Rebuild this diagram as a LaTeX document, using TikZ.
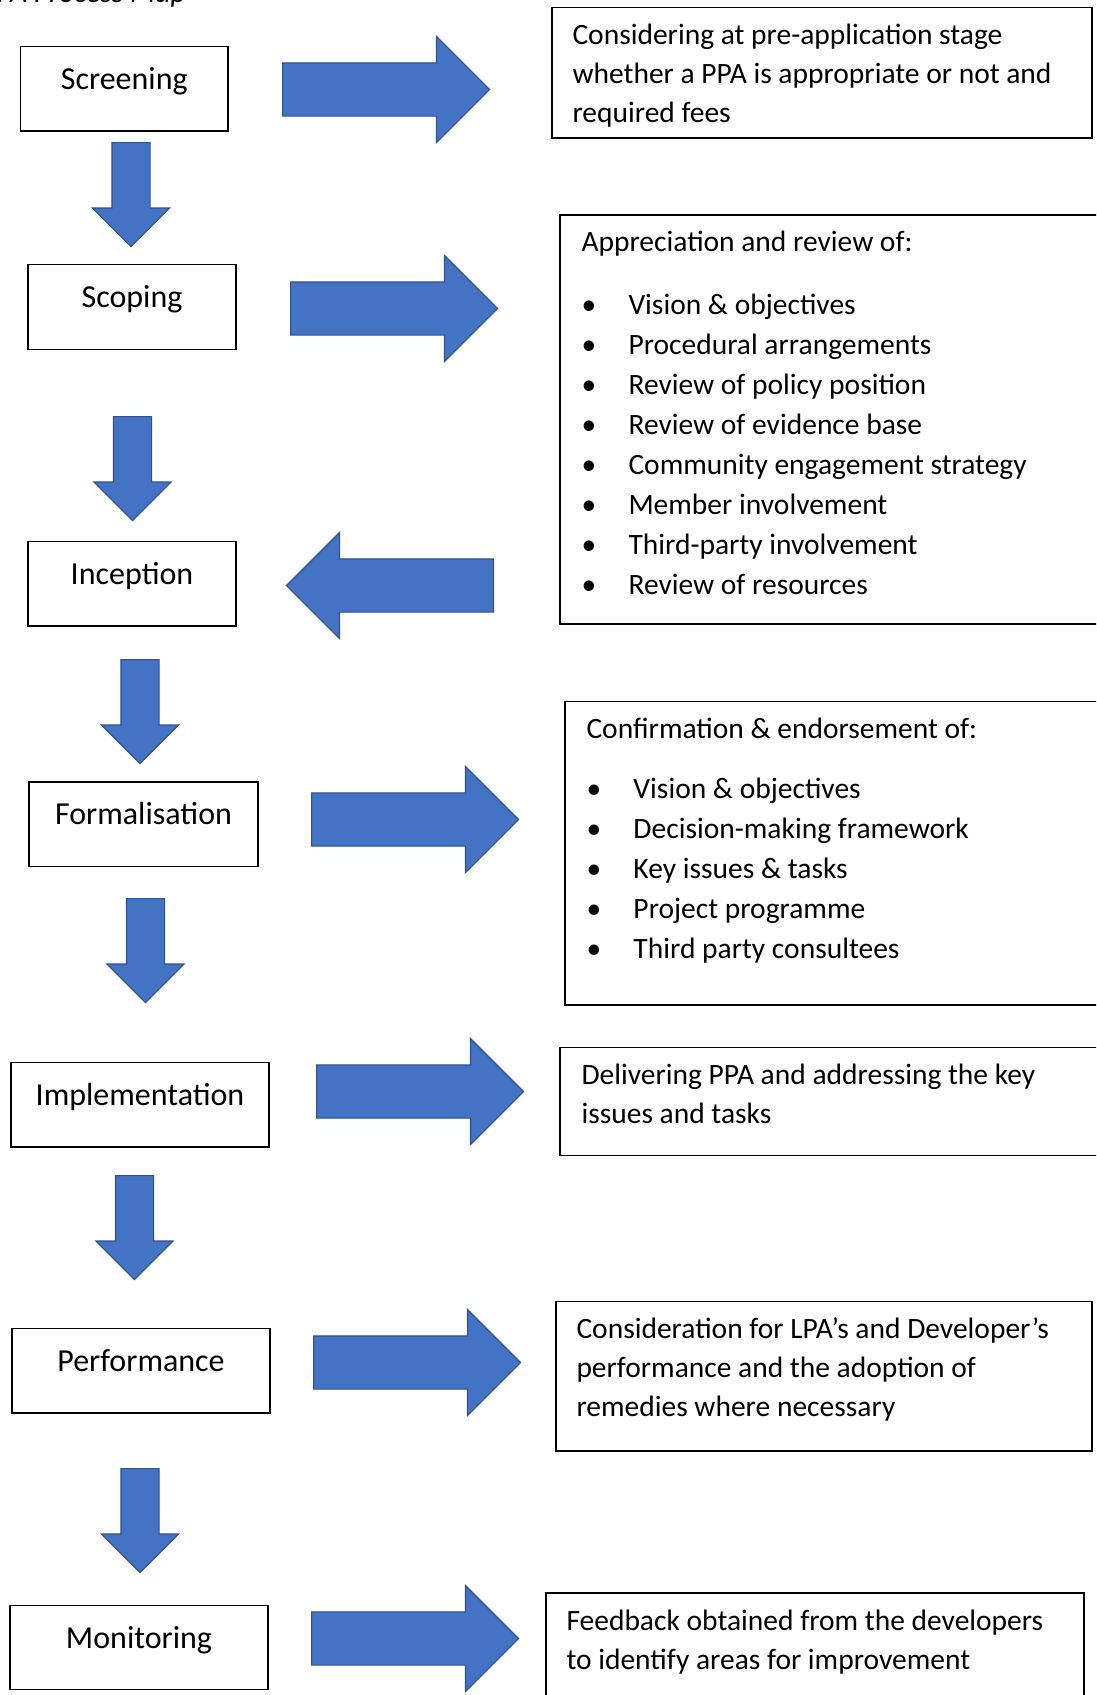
\documentclass[tikz,border=0pt]{standalone}
\usepackage{fontspec}
\setmainfont{Carlito}
\usetikzlibrary{positioning,shapes.arrows}
\definecolor{arrowblue}{HTML}{4472C4}
\definecolor{arrowedge}{HTML}{2F528F}
\tikzset{
    stage/.style={draw, line width=1.4pt, minimum height=84.5pt, inner sep=0pt,
        text height=20pt, text depth=19pt, font=\fontsize{32}{38}\selectfont},
    infobox/.style={draw, line width=1.4pt, inner sep=0pt},
    infotext/.style={inner sep=0pt, align=left, font=\fontsize{29.5}{39}\selectfont},
    listtext/.style={inner sep=0pt, align=left, font=\fontsize{29.5}{40}\selectfont},
    bigarrow/.style={single arrow, fill=arrowblue, draw=arrowedge, line width=1.2pt,
        inner sep=0pt, text height=52pt, text depth=0pt, single arrow head extend=26.5pt,
        minimum height=207pt, anchor=tail},
    downarrow/.style={single arrow, fill=arrowblue, draw=arrowedge, line width=1.2pt,
        inner sep=0pt, text height=37pt, text depth=0pt, single arrow head extend=19.5pt,
        minimum height=104pt, rotate=-90, anchor=tail},
}
\newcommand{\bulletitem}[1]{\makebox[47pt][l]{\textbullet}#1}
\begin{document}
\begin{tikzpicture}[x=1pt,y=-1pt]
    \useasboundingbox (0,0) rectangle (1096,1695);
    \clip (0,0) rectangle (1096,1695);
    \node[anchor=base east, inner sep=0pt, font=\fontsize{29.5}{34}\selectfont\itshape] (title) at (186,2) {PPA Process Map};
    % stages
    \node[stage, minimum width=207.5pt] (screening) at (124.25,88.75) {Screening};
    \node[stage, minimum width=208pt] (scoping) at (132,307) {Scoping};
    \node[stage, minimum width=208pt] (inception) at (132,583.75) {Inception};
    \node[stage, minimum width=229pt] (formalisation) at (143.5,824.25) {Formalisation};
    \node[stage, minimum width=258pt] (implementation) at (140,1104.75) {Implementation};
    \node[stage, minimum width=258pt] (performance) at (141,1370.75) {Performance};
    \node[stage, minimum width=258pt] (monitoring) at (139,1647.5) {Monitoring};
    \node[downarrow] (down1) at (131,142) {};
    \node[downarrow] (down2) at (132.5,416) {};
    \node[downarrow] (down3) at (140,659) {};
    \node[downarrow] (down4) at (145.5,898) {};
    \node[downarrow] (down5) at (134.5,1175) {};
    \node[downarrow] (down6) at (140,1468) {};
    \node[bigarrow] (across1) at (282,89.5) {};
    \node[bigarrow] (across2) at (290,308.5) {};
    \node[bigarrow, rotate=180] (back3) at (494,585.5) {};
    \node[bigarrow] (across4) at (311,819.5) {};
    \node[bigarrow] (across5) at (316,1091.5) {};
    \node[bigarrow] (across6) at (313,1362.5) {};
    \node[bigarrow] (across7) at (311,1638.5) {};
    % descriptions
    \node[infobox, minimum width=540pt, minimum height=130.5pt] (screendesc) at (822,72.75) {};
    \node[infobox, minimum width=550pt, minimum height=409pt] (scopedesc) at (835,419.5) {};
    \node[infobox, minimum width=545pt, minimum height=303.5pt] (formaldesc) at (837.5,853.25) {};
    \node[infobox, minimum width=550pt, minimum height=108pt] (impldesc) at (835,1101.5) {};
    \node[infobox, minimum width=536pt, minimum height=149.5pt] (perfdesc) at (824,1376.25) {};
    \node[infobox, minimum width=538pt, minimum height=117pt] (monitdesc) at (815,1651.5) {};
    \node[infotext, below right=17pt and 21pt of screendesc.north west] (screentext)
        {Considering at pre-application stage\\whether a PPA is appropriate or not and\\required fees};
    \node[listtext, below right=17pt and 22pt of scopedesc.north west] (scopetext)
        {Appreciation and review of:\\[23pt]
        \bulletitem{Vision \& objectives}\\
        \bulletitem{Procedural arrangements}\\
        \bulletitem{Review of policy position}\\
        \bulletitem{Review of evidence base}\\
        \bulletitem{Community engagement strategy}\\
        \bulletitem{Member involvement}\\
        \bulletitem{Third-party involvement}\\
        \bulletitem{Review of resources}};
    \node[listtext, below right=17pt and 22pt of formaldesc.north west] (formaltext)
        {Confirmation \& endorsement of:\\[20pt]
        \bulletitem{Vision \& objectives}\\
        \bulletitem{Decision-making framework}\\
        \bulletitem{Key issues \& tasks}\\
        \bulletitem{Project programme}\\
        \bulletitem{Third party consultees}};
    \node[infotext, below right=17pt and 22pt of impldesc.north west] (impltext)
        {Delivering PPA and addressing the key\\issues and tasks};
    \node[infotext, below right=17pt and 21pt of perfdesc.north west] (perftext)
        {Consideration for LPA’s and Developer’s\\performance and the adoption of\\remedies where necessary};
    \node[infotext, below right=17pt and 21pt of monitdesc.north west] (monittext)
        {Feedback obtained from the developers\\to identify areas for improvement};
\end{tikzpicture}
\end{document}
